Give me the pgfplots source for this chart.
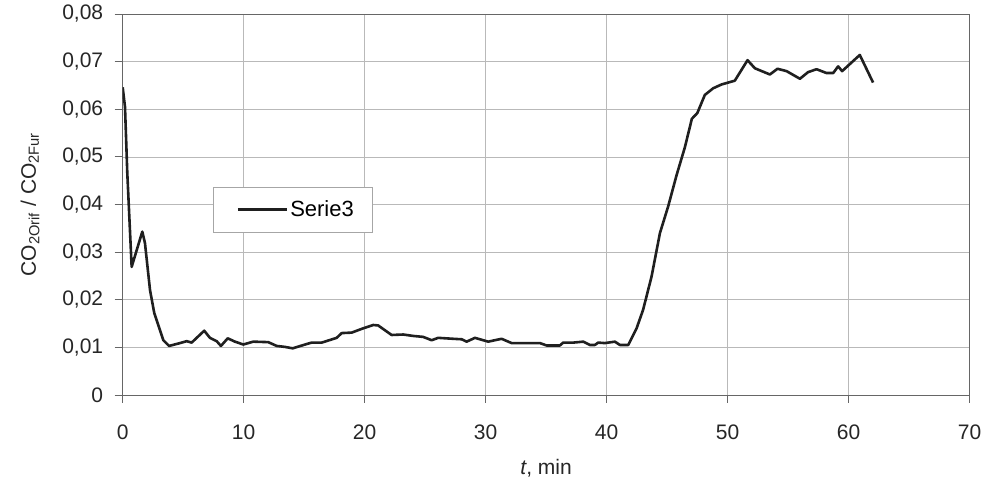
\documentclass[border=0pt]{standalone}
\usepackage{pgfplots}
\pgfplotsset{compat=1.18}
\usepackage{fontspec}
\setmainfont{Liberation Sans}
\begin{document}
\begin{tikzpicture}
\begin{axis}[name=ax,
  scale only axis, width=846.8pt, height=381pt,
  xmin=0, xmax=70, ymin=0, ymax=0.08,
  xtick={0,10,...,70}, ytick={0,0.01,...,0.08},
  yticklabels={0,{0,01},{0,02},{0,03},{0,04},{0,05},{0,06},{0,07},{0,08}},
  /pgf/number format/assume math mode=true,
  scaled y ticks=false,
  tick label style={font=\fontsize{21}{25}\selectfont, text=black!85},
  label style={font=\fontsize{21}{25}\selectfont, text=black!85},
  grid=major, grid style={gray!55, line width=0.7pt},
  axis line style={gray!80!black, line width=0.8pt},
  tick style={gray!80!black, line width=0.8pt},
  tick align=outside, major tick length=8pt,
  xtick pos=bottom, ytick pos=left,
  xticklabel style={yshift=-18pt},
  yticklabel style={xshift=-8pt},
  xlabel={\textit{t}, min},
  xlabel style={yshift=-13pt},
  ylabel={CO$_{\mathrm{2Orif}}$ / CO$_{\mathrm{2Fur}}$},
  ylabel style={yshift=16pt},
  legend style={at={(0.107,0.547)}, anchor=north west, draw=gray!70, line width=0.7pt,
    font=\fontsize{22}{26}\selectfont, inner xsep=16pt, inner ysep=12pt},
  legend cell align=left,
  legend image post style={line width=2.6pt},
  legend image code/.code={\path (0pt,0pt); \draw[#1] (7pt,0pt) -- (56pt,0pt);},
]
\addplot[black!88, line width=2.6pt, line join=round] coordinates {
(0.0,0.0646) (0.19,0.0605) (0.38,0.0466) (0.74,0.0269) (1.62,0.0343) (1.84,0.0319)
(2.26,0.0220) (2.61,0.0172) (3.36,0.0115) (3.83,0.0103) (4.74,0.0109) (5.29,0.0113)
(5.70,0.0110) (6.74,0.0135) (7.21,0.0120) (7.77,0.0113) (8.12,0.0103) (8.68,0.0119)
(9.28,0.0112) (9.97,0.0106) (10.79,0.0112) (12.03,0.0111) (12.73,0.0103) (13.41,0.0101)
(14.05,0.0098) (15.21,0.0107) (15.62,0.0110) (16.45,0.0110) (17.69,0.0120) (18.10,0.0130)
(18.93,0.0131) (19.88,0.0140) (20.71,0.0147) (21.12,0.0146) (22.23,0.0126) (23.19,0.0127)
(24.02,0.0124) (24.84,0.0122) (25.54,0.0115) (26.08,0.0120) (27.32,0.0118) (28.02,0.0117)
(28.43,0.0112) (29.12,0.0120) (30.21,0.0112) (31.32,0.0118) (32.15,0.0109) (34.49,0.0109)
(35.04,0.0104) (36.14,0.0104) (36.41,0.0110) (37.24,0.0110) (38.07,0.0112) (38.62,0.0105)
(39.03,0.0105) (39.31,0.0110) (39.86,0.0109) (40.69,0.0112) (41.10,0.0105) (41.79,0.0105)
(42.48,0.0140) (43.02,0.0179) (43.72,0.0249) (44.41,0.0340) (45.09,0.0396) (45.79,0.0462)
(46.47,0.0520) (47.05,0.0580) (47.50,0.0592) (48.12,0.0630) (48.81,0.0644) (49.50,0.0652)
(50.60,0.0660) (51.65,0.0703) (52.26,0.0686) (53.50,0.0673) (54.13,0.0685) (54.88,0.0680)
(55.98,0.0664) (56.66,0.0678) (57.36,0.0684) (58.18,0.0676) (58.73,0.0676) (59.14,0.0690)
(59.47,0.0680) (60.93,0.0714) (62.03,0.0656)
};
\addlegendentry{Serie3}
\end{axis}
\path[use as bounding box] ([shift={(-122.7pt,-83pt)}]ax.south west) rectangle ([shift={(18.5pt,14pt)}]ax.north east);
\end{tikzpicture}
\end{document}
